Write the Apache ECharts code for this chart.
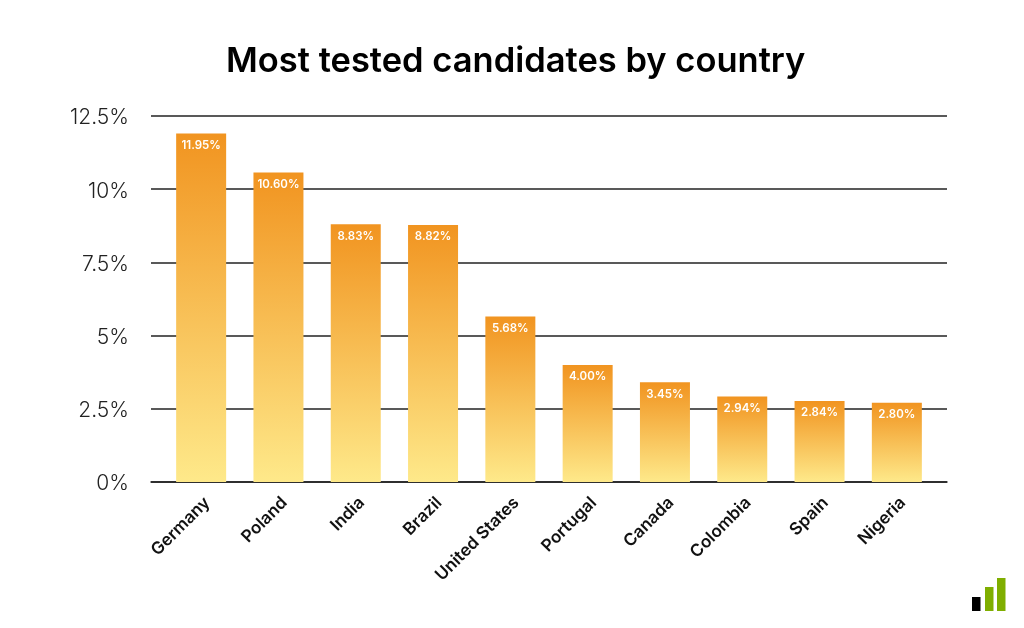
<!DOCTYPE html>
<html lang="en">
<head>
    <meta charset="UTF-8">
    <script src="https://cdn.jsdelivr.net/npm/echarts@6/dist/echarts.min.js"></script>
    <title>Most tested candidates by country</title>
    <style>
        html, body { margin: 0; padding: 0; background: #fff; }
    </style>
</head>
<body>
    <div id="main" style="width:1024px;height:628px"></div>
    <script>
        var countries = ['Germany', 'Poland', 'India', 'Brazil', 'United States', 'Portugal', 'Canada', 'Colombia', 'Spain', 'Nigeria'];
        // bar heights, printed labels are kept apart
        var shares = [11.9, 10.57, 8.8, 8.78, 5.65, 4.0, 3.41, 2.92, 2.77, 2.71];
        var shareLabels = ['11.95%', '10.60%', '8.83%', '8.82%', '5.68%', '4.00%', '3.45%', '2.94%', '2.84%', '2.80%'];
        var fontName = 'Inter';

        var main = document.getElementById('main');
        var echart = echarts.init(main, null, { renderer: 'canvas' });

        var barColor = new echarts.graphic.LinearGradient(0, 0, 0, 1, [
            { offset: 0, color: '#F19420' },
            { offset: 1, color: '#FEE98A' }
        ]);

        var option = {
            backgroundColor: '#fff',
            animation: false,
            textStyle: { fontFamily: fontName },
            title: {
                text: 'Most tested candidates by country',
                left: 221,
                top: 39,
                textStyle: { fontFamily: fontName, fontSize: 34.5, fontWeight: 600, color: '#000' }
            },
            grid: [
                { left: 151, right: 77, top: 116, bottom: 146 },
                { left: 162.5, right: 88.5, top: 116, bottom: 146 }
            ],
            xAxis: [
                {
                    gridIndex: 0,
                    type: 'value',
                    min: 0,
                    max: 1,
                    axisLine: { show: true, lineStyle: { color: '#222', width: 1.5 } },
                    axisTick: { show: false },
                    axisLabel: { show: false },
                    splitLine: { show: false }
                },
                {
                    gridIndex: 1,
                    type: 'category',
                    data: countries,
                    axisLine: { show: false },
                    axisTick: { show: false },
                    axisLabel: {
                        interval: 0,
                        rotate: 45,
                        margin: 12,
                        fontSize: 17,
                        fontWeight: 600,
                        verticalAlign: 'top',
                        color: '#111'
                    }
                }
            ],
            yAxis: [
                {
                    gridIndex: 0,
                    type: 'value',
                    min: 0,
                    max: 12.5,
                    interval: 2.5,
                    axisLine: { show: false },
                    axisTick: { show: false },
                    axisLabel: {
                        margin: 22,
                        fontSize: 21,
                        fontWeight: 300,
                        color: '#222',
                        verticalAlign: 'top',
                        lineHeight: 4,
                        formatter: '{value}%'
                    },
                    splitLine: { lineStyle: { color: '#222', width: 1.5 } }
                },
                {
                    gridIndex: 1,
                    type: 'value',
                    min: 0,
                    max: 12.5,
                    interval: 2.5,
                    axisLine: { show: false },
                    axisTick: { show: false },
                    axisLabel: { show: false },
                    splitLine: { show: false }
                }
            ],
            series: [
                {
                    type: 'bar',
                    xAxisIndex: 1,
                    yAxisIndex: 1,
                    barWidth: 50,
                    data: shares,
                    itemStyle: { color: barColor },
                    label: {
                        show: true,
                        position: 'insideTop',
                        distance: 6,
                        fontSize: 11.5,
                        fontWeight: 600,
                        color: '#fff',
                        formatter: function (p) { return shareLabels[p.dataIndex]; }
                    }
                }
            ],
            graphic: [
                { type: 'rect', shape: { x: 972, y: 597, width: 8.5, height: 14 }, style: { fill: '#000' } },
                { type: 'rect', shape: { x: 985, y: 587, width: 8.5, height: 24 }, style: { fill: '#7FAE00' } },
                { type: 'rect', shape: { x: 997, y: 578, width: 8.5, height: 33 }, style: { fill: '#7FAE00' } }
            ]
        };
        echart.setOption(option);
    </script>
</body>
</html>
